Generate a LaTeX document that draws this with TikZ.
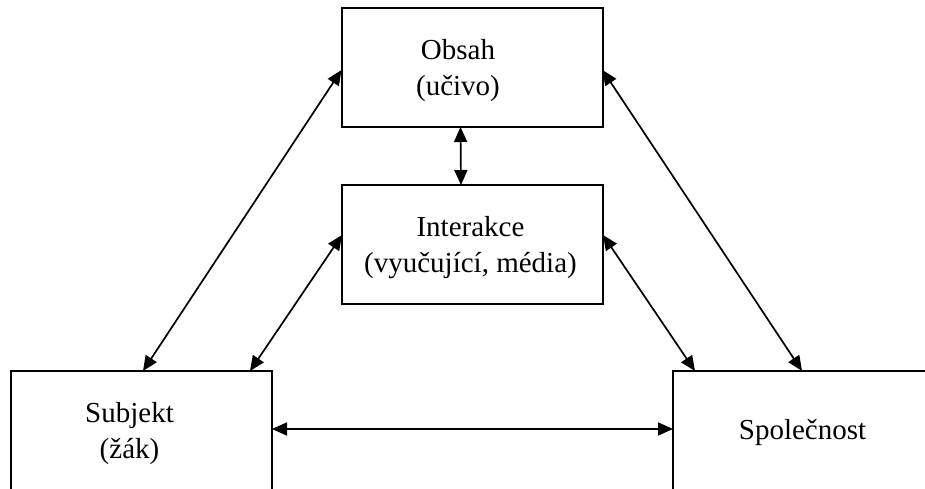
\documentclass[tikz,border=0pt]{standalone}
\usepackage{fontspec}
\setmainfont{Liberation Serif}
\usetikzlibrary{calc,arrows.meta}
\tikzset{
  box/.style={draw, rectangle, line width=1pt, inner sep=0pt, outer sep=0pt,
    minimum width=130.5pt, minimum height=59.5pt},
  txt/.style={align=center, inner sep=0pt},
  link/.style={line width=0.85pt, {Triangle[length=7.5pt,width=6.5pt]}-{Triangle[length=7.5pt,width=6.5pt]}}
}
\begin{document}
\begin{tikzpicture}[x=0.5pt, y=0.5pt, font=\fontsize{14.5}{18}\selectfont]
\useasboundingbox (0,0) rectangle (925,488);
\node[box] (obsah) at (472,420.5){};
\node[box] (inter) at (472.5,243.5){};
\node[box] (subj) at (141.5,57.5){};
\node[box] (spol) at (803.5,57.5){};
\node[txt] (obsahtext) at ($(obsah.center)+(-14,-3)$){Obsah\\(učivo)};
\node[txt] (intertext) at ($(inter.center)+(-2,-3)$){Interakce\\(vyučující, média)};
\node[txt] (subjtext) at ($(subj.center)+(-12,-3)$){Subjekt\\(žák)};
\node[txt] (spoltext) at ($(spol.center)+(-1,-2)$){Společnost};
\draw[link] ($(subj.north west)+(132,0)$) -- ($(obsah.north west)+(0,-62)$);
\draw[link] ($(subj.north west)+(239,0)$) -- ($(inter.north west)+(0,-50)$);
\draw[link] ($(spol.north west)+(22,0)$) -- ($(inter.north east)+(0,-50)$);
\draw[link] ($(spol.north west)+(129,0)$) -- ($(obsah.north east)+(0,-62)$);
\draw[link] ($(obsah.south west)+(119,0)$) -- ($(inter.north west)+(119,0)$);
\draw[link] ($(subj.north east)+(0,-58)$) -- ($(spol.north west)+(0,-58)$);

\end{tikzpicture}
\end{document}
